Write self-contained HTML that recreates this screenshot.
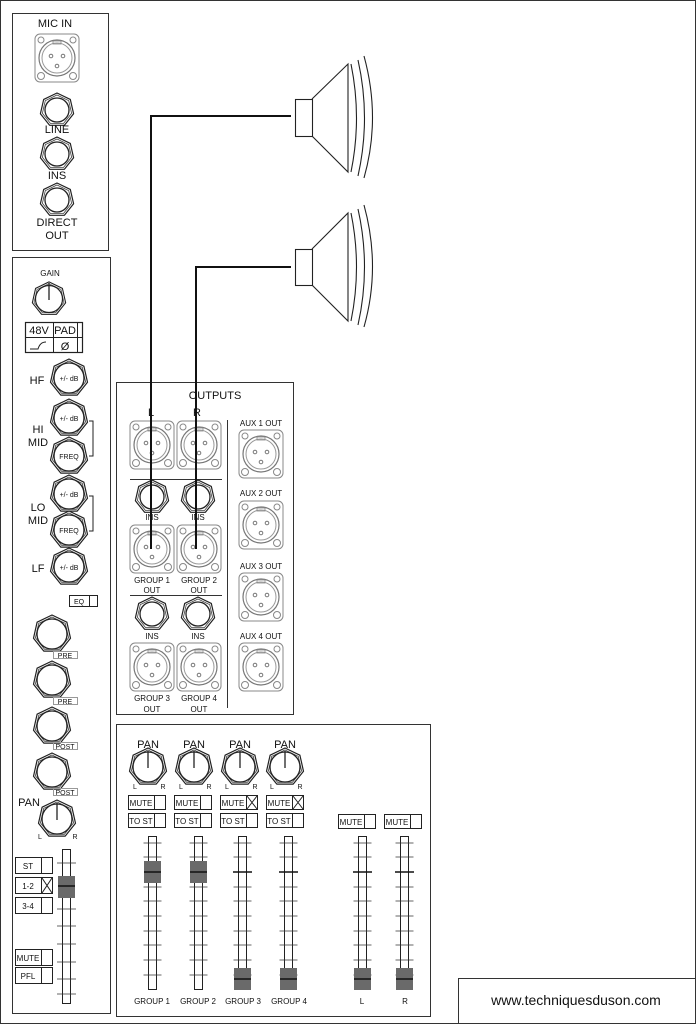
<!DOCTYPE html>
<html><head><meta charset="utf-8"><style>
html,body{margin:0;padding:0;background:#fff}
svg{display:block}
text{font-family:"Liberation Sans",Arial,sans-serif;fill:#111}
</style></head><body>
<svg width="696" height="1024" viewBox="0 0 696 1024" xmlns="http://www.w3.org/2000/svg">
<defs>
<g id="jack">
<polygon points="0,-17 13.3,-10.6 16.6,3.8 7.4,15.3 -7.4,15.3 -16.6,3.8 -13.3,-10.6" fill="#fff" stroke="#222" stroke-width="1.2" stroke-linejoin="round"/>
<polygon points="0,-15 11.7,-9.4 14.6,3.3 6.5,13.5 -6.5,13.5 -14.6,3.3 -11.7,-9.4" fill="none" stroke="#444" stroke-width="0.8"/>
<circle r="12" fill="#fff" stroke="#222" stroke-width="1.3"/>
</g>
<g id="knob">
<polygon points="0,-19 14.9,-11.8 18.5,4.2 8.2,17.1 -8.2,17.1 -18.5,4.2 -14.9,-11.8" fill="#fff" stroke="#222" stroke-width="1.2" stroke-linejoin="round"/>
<polygon points="0,-17 13.3,-10.6 16.6,3.8 7.4,15.3 -7.4,15.3 -16.6,3.8 -13.3,-10.6" fill="none" stroke="#444" stroke-width="0.8"/>
<circle r="15" fill="#fff" stroke="#222" stroke-width="1.3"/>
</g>
<g id="xlr">
<rect x="-22" y="-24" width="44" height="48" rx="5" fill="#fff" stroke="#888" stroke-width="1"/>
<circle r="18" fill="none" stroke="#777" stroke-width="1.2"/>
<circle r="15" fill="none" stroke="#999" stroke-width="1"/>
<circle cx="-16" cy="-18" r="3" fill="none" stroke="#888"/>
<circle cx="16" cy="-18" r="3" fill="none" stroke="#888"/>
<circle cx="-16" cy="18" r="3.5" fill="none" stroke="#888"/>
<circle cx="16" cy="18" r="3.5" fill="none" stroke="#888"/>
<rect x="-4" y="-17" width="8" height="3" fill="none" stroke="#888" stroke-width="0.8"/>
<circle cx="-6" cy="-2" r="1.8" fill="none" stroke="#777"/>
<circle cx="6" cy="-2" r="1.8" fill="none" stroke="#777"/>
<circle cx="0" cy="8" r="1.8" fill="none" stroke="#777"/>
</g>
<g id="ticks" stroke="#333" stroke-width="0.8">
<line x1="-9" y1="843" x2="9" y2="843"/><line x1="-9" y1="857" x2="9" y2="857"/><line x1="-9" y1="887" x2="9" y2="887"/><line x1="-9" y1="901" x2="9" y2="901"/><line x1="-9" y1="916" x2="9" y2="916"/><line x1="-9" y1="931" x2="9" y2="931"/><line x1="-9" y1="945" x2="9" y2="945"/><line x1="-9" y1="960" x2="9" y2="960"/><line x1="-9" y1="975" x2="9" y2="975"/>
</g>
</defs>

<rect x="0.5" y="0.5" width="695" height="1023" fill="#fff" stroke="#333"/>

<rect x="12.5" y="13.5" width="96" height="237" fill="none" stroke="#333"/>
<text x="55" y="27" font-size="11" text-anchor="middle">MIC IN</text>
<use href="#xlr" x="57" y="58"/>
<use href="#jack" x="57" y="110"/>
<text x="57" y="133" font-size="11" text-anchor="middle">LINE</text>
<use href="#jack" x="57" y="154"/>
<text x="57" y="179" font-size="11" text-anchor="middle">INS</text>
<use href="#jack" x="57" y="200"/>
<text x="57" y="226" font-size="11" text-anchor="middle">DIRECT</text>
<text x="57" y="239" font-size="11" text-anchor="middle">OUT</text>

<rect x="12.5" y="257.5" width="98" height="756" fill="none" stroke="#333"/>
<text x="50" y="276" font-size="8" text-anchor="middle">GAIN</text>
<use href="#knob" x="49" y="299" transform="translate(4.9 29.9) scale(0.9)"/>
<line x1="49" y1="283" x2="49" y2="300" stroke="#222" stroke-width="1.3"/>
<rect x="25.5" y="322.5" width="57" height="30" fill="none" stroke="#222" stroke-width="1.2"/>
<line x1="25" y1="337.5" x2="82" y2="337.5" stroke="#222"/>
<line x1="53.5" y1="322" x2="53.5" y2="353" stroke="#222"/>
<line x1="77.5" y1="322" x2="77.5" y2="353" stroke="#222"/>
<text x="39" y="334" font-size="11" text-anchor="middle">48V</text>
<text x="65" y="334" font-size="11" text-anchor="middle">PAD</text>
<path d="M30 349 L38 349 Q40 342 46 342" fill="none" stroke="#222"/>
<text x="65" y="350" font-size="11" text-anchor="middle">Ø</text>

<text x="37" y="384" font-size="11" text-anchor="middle">HF</text>
<use href="#knob" x="69" y="378"/><text x="69" y="381" font-size="7" text-anchor="middle">+/- dB</text>
<text x="38" y="433" font-size="11" text-anchor="middle">HI</text>
<text x="38" y="446" font-size="11" text-anchor="middle">MID</text>
<use href="#knob" x="69" y="418"/><text x="69" y="421" font-size="7" text-anchor="middle">+/- dB</text>
<use href="#knob" x="69" y="456"/><text x="69" y="459" font-size="7" text-anchor="middle">FREQ</text>
<path d="M89 421 H93 V456 H89" fill="none" stroke="#222"/>
<text x="38" y="511" font-size="11" text-anchor="middle">LO</text>
<text x="38" y="524" font-size="11" text-anchor="middle">MID</text>
<use href="#knob" x="69" y="494"/><text x="69" y="497" font-size="7" text-anchor="middle">+/- dB</text>
<use href="#knob" x="69" y="530"/><text x="69" y="533" font-size="7" text-anchor="middle">FREQ</text>
<path d="M89 496 H93 V531 H89" fill="none" stroke="#222"/>
<text x="38" y="572" font-size="11" text-anchor="middle">LF</text>
<use href="#knob" x="69" y="567"/><text x="69" y="570" font-size="7" text-anchor="middle">+/- dB</text>
<rect x="69.5" y="595.5" width="28" height="11" fill="none" stroke="#222"/>
<line x1="89.5" y1="595" x2="89.5" y2="607" stroke="#222"/>
<text x="79" y="604" font-size="7" text-anchor="middle">EQ</text>

<use href="#knob" x="52" y="634"/>
<rect x="53.5" y="651.5" width="24" height="7" fill="none" stroke="#999"/><text x="65" y="658" font-size="7" text-anchor="middle">PRE</text>
<use href="#knob" x="52" y="680"/>
<rect x="53.5" y="697.5" width="24" height="7" fill="none" stroke="#999"/><text x="65" y="704" font-size="7" text-anchor="middle">PRE</text>
<use href="#knob" x="52" y="726"/>
<rect x="53.5" y="742.5" width="24" height="7" fill="none" stroke="#999"/><text x="65" y="749" font-size="7" text-anchor="middle">POST</text>
<use href="#knob" x="52" y="772"/>
<rect x="53.5" y="788.5" width="24" height="7" fill="none" stroke="#999"/><text x="65" y="795" font-size="7" text-anchor="middle">POST</text>
<text x="29" y="806" font-size="11" text-anchor="middle">PAN</text>
<use href="#knob" x="57" y="819"/>
<line x1="57" y1="803" x2="57" y2="820" stroke="#222" stroke-width="1.3"/>
<text x="40" y="839" font-size="7" text-anchor="middle">L</text>
<text x="75" y="839" font-size="7" text-anchor="middle">R</text>

<g stroke="#222" fill="none">
<rect x="15.5" y="857.5" width="37" height="16"/><line x1="41.5" y1="857" x2="41.5" y2="874"/>
<rect x="15.5" y="877.5" width="37" height="16"/><line x1="41.5" y1="877" x2="41.5" y2="894"/>
<path d="M42 878 L52 893 M52 878 L42 893"/>
<rect x="15.5" y="897.5" width="37" height="16"/><line x1="41.5" y1="897" x2="41.5" y2="914"/>
<rect x="15.5" y="949.5" width="37" height="16"/><line x1="41.5" y1="949" x2="41.5" y2="966"/>
<rect x="15.5" y="967.5" width="37" height="16"/><line x1="41.5" y1="967" x2="41.5" y2="984"/>
</g>
<text x="28" y="869" font-size="8" text-anchor="middle">ST</text>
<text x="28" y="889" font-size="8" text-anchor="middle">1-2</text>
<text x="28" y="909" font-size="8" text-anchor="middle">3-4</text>
<text x="28" y="961" font-size="8" text-anchor="middle">MUTE</text>
<text x="28" y="979" font-size="8" text-anchor="middle">PFL</text>
<rect x="62.5" y="849.5" width="8" height="154" fill="#fff" stroke="#222"/>
<g stroke="#333" stroke-width="0.8">
<line x1="57" y1="863" x2="76" y2="863"/><line x1="57" y1="909" x2="76" y2="909"/><line x1="57" y1="926" x2="76" y2="926"/><line x1="57" y1="944" x2="76" y2="944"/><line x1="57" y1="962" x2="76" y2="962"/><line x1="57" y1="979" x2="76" y2="979"/><line x1="57" y1="994" x2="76" y2="994"/>
</g>
<rect x="58" y="876" width="17" height="22" fill="#6a6a6a"/>
<line x1="58" y1="886" x2="75" y2="886" stroke="#111" stroke-width="1.5"/>

<g stroke="#222" fill="#fff" stroke-width="1.1">
<rect x="295.5" y="99.5" width="17" height="37"/>
<path d="M312 99 L348 64 L348 172 L312 136" fill="none"/>
<path d="M351 64 Q362 118 351 172 M358 60 Q371 118 358 176 M364 56 Q381 118 364 178" fill="none"/>
<rect x="295.5" y="249.5" width="17" height="36"/>
<path d="M312 249 L348 213 L348 321 L312 285" fill="none"/>
<path d="M351 213 Q362 267 351 321 M358 209 Q371 267 358 325 M364 205 Q381 267 364 327" fill="none"/>
</g>

<rect x="116.5" y="382.5" width="177" height="332" fill="none" stroke="#333"/>
<text x="215" y="399" font-size="11" text-anchor="middle">OUTPUTS</text>
<text x="151" y="416" font-size="11" text-anchor="middle">L</text>
<text x="197" y="416" font-size="11" text-anchor="middle">R</text>
<use href="#xlr" x="152" y="445"/>
<use href="#xlr" x="199" y="445"/>
<line x1="130" y1="479.5" x2="222" y2="479.5" stroke="#333"/>
<line x1="227.5" y1="420" x2="227.5" y2="708" stroke="#333"/>
<use href="#jack" x="152" y="497"/>
<use href="#jack" x="198" y="497"/>
<text x="152" y="520" font-size="8" text-anchor="middle">INS</text>
<text x="198" y="520" font-size="8" text-anchor="middle">INS</text>
<use href="#xlr" x="152" y="549"/>
<use href="#xlr" x="199" y="549"/>
<text x="152" y="583" font-size="8" text-anchor="middle">GROUP 1</text>
<text x="152" y="593" font-size="8" text-anchor="middle">OUT</text>
<text x="199" y="583" font-size="8" text-anchor="middle">GROUP 2</text>
<text x="199" y="593" font-size="8" text-anchor="middle">OUT</text>
<line x1="130" y1="595.5" x2="222" y2="595.5" stroke="#333"/>
<use href="#jack" x="152" y="614"/>
<use href="#jack" x="198" y="614"/>
<text x="152" y="639" font-size="8" text-anchor="middle">INS</text>
<text x="198" y="639" font-size="8" text-anchor="middle">INS</text>
<use href="#xlr" x="152" y="667"/>
<use href="#xlr" x="199" y="667"/>
<text x="152" y="701" font-size="8" text-anchor="middle">GROUP 3</text>
<text x="152" y="712" font-size="8" text-anchor="middle">OUT</text>
<text x="199" y="701" font-size="8" text-anchor="middle">GROUP 4</text>
<text x="199" y="712" font-size="8" text-anchor="middle">OUT</text>
<text x="261" y="426" font-size="8" text-anchor="middle">AUX 1 OUT</text>
<use href="#xlr" x="261" y="454"/>
<text x="261" y="496" font-size="8" text-anchor="middle">AUX 2 OUT</text>
<use href="#xlr" x="261" y="525"/>
<text x="261" y="569" font-size="8" text-anchor="middle">AUX 3 OUT</text>
<use href="#xlr" x="261" y="597"/>
<text x="261" y="639" font-size="8" text-anchor="middle">AUX 4 OUT</text>
<use href="#xlr" x="261" y="667"/>

<path d="M291 116 H151 V549" fill="none" stroke="#111" stroke-width="2"/>
<path d="M291 267 H196 V549" fill="none" stroke="#111" stroke-width="2"/>

<rect x="116.5" y="724.5" width="314" height="292" fill="none" stroke="#333"/>
<text x="148" y="748" font-size="11" text-anchor="middle">PAN</text>
<text x="194" y="748" font-size="11" text-anchor="middle">PAN</text>
<text x="240" y="748" font-size="11" text-anchor="middle">PAN</text>
<text x="285" y="748" font-size="11" text-anchor="middle">PAN</text>
<use href="#knob" x="148" y="767"/><use href="#knob" x="194" y="767"/><use href="#knob" x="240" y="767"/><use href="#knob" x="285" y="767"/>
<g stroke="#222" stroke-width="1.3">
<line x1="148" y1="751" x2="148" y2="768"/><line x1="194" y1="751" x2="194" y2="768"/><line x1="240" y1="751" x2="240" y2="768"/><line x1="285" y1="751" x2="285" y2="768"/>
</g>
<g font-size="7" text-anchor="middle">
<text x="135" y="789">L</text><text x="163" y="789">R</text>
<text x="181" y="789">L</text><text x="209" y="789">R</text>
<text x="227" y="789">L</text><text x="255" y="789">R</text>
<text x="272" y="789">L</text><text x="300" y="789">R</text>
</g>
<g stroke="#222" fill="none">
<rect x="128.5" y="795.5" width="37" height="14"/><line x1="154.5" y1="795" x2="154.5" y2="810"/>
<rect x="174.5" y="795.5" width="37" height="14"/><line x1="200.5" y1="795" x2="200.5" y2="810"/>
<rect x="220.5" y="795.5" width="37" height="14"/><line x1="246.5" y1="795" x2="246.5" y2="810"/>
<path d="M247 796 L257 809 M257 796 L247 809"/>
<rect x="266.5" y="795.5" width="37" height="14"/><line x1="292.5" y1="795" x2="292.5" y2="810"/>
<path d="M293 796 L303 809 M303 796 L293 809"/>
<rect x="128.5" y="813.5" width="37" height="14"/><line x1="154.5" y1="813" x2="154.5" y2="828"/>
<rect x="174.5" y="813.5" width="37" height="14"/><line x1="200.5" y1="813" x2="200.5" y2="828"/>
<rect x="220.5" y="813.5" width="37" height="14"/><line x1="246.5" y1="813" x2="246.5" y2="828"/>
<rect x="266.5" y="813.5" width="37" height="14"/><line x1="292.5" y1="813" x2="292.5" y2="828"/>
<rect x="338.5" y="814.5" width="37" height="14"/><line x1="364.5" y1="814" x2="364.5" y2="829"/>
<rect x="384.5" y="814.5" width="37" height="14"/><line x1="410.5" y1="814" x2="410.5" y2="829"/>
</g>
<g font-size="8" text-anchor="middle">
<text x="141" y="806">MUTE</text><text x="187" y="806">MUTE</text><text x="233" y="806">MUTE</text><text x="279" y="806">MUTE</text>
<text x="141" y="824">TO ST</text><text x="187" y="824">TO ST</text><text x="233" y="824">TO ST</text><text x="279" y="824">TO ST</text>
<text x="351" y="825">MUTE</text><text x="397" y="825">MUTE</text>
</g>
<g>
<rect x="148.5" y="836.5" width="8" height="153" fill="#fff" stroke="#222"/><use href="#ticks" x="152.5"/>
<rect x="194.5" y="836.5" width="8" height="153" fill="#fff" stroke="#222"/><use href="#ticks" x="198.5"/>
<rect x="238.5" y="836.5" width="8" height="153" fill="#fff" stroke="#222"/><use href="#ticks" x="242.5"/>
<rect x="284.5" y="836.5" width="8" height="153" fill="#fff" stroke="#222"/><use href="#ticks" x="288.5"/>
<rect x="358.5" y="836.5" width="8" height="153" fill="#fff" stroke="#222"/><use href="#ticks" x="362.5"/>
<rect x="400.5" y="836.5" width="8" height="153" fill="#fff" stroke="#222"/><use href="#ticks" x="404.5"/>
</g>
<g stroke="#111" stroke-width="1.5">
<line x1="233" y1="872" x2="252" y2="872"/><line x1="279" y1="872" x2="298" y2="872"/><line x1="353" y1="872" x2="372" y2="872"/><line x1="395" y1="872" x2="414" y2="872"/>
</g>
<g fill="#6a6a6a">
<rect x="144" y="861" width="17" height="22"/><rect x="190" y="861" width="17" height="22"/>
<rect x="234" y="968" width="17" height="22"/><rect x="280" y="968" width="17" height="22"/>
<rect x="354" y="968" width="17" height="22"/><rect x="396" y="968" width="17" height="22"/>
</g>
<g stroke="#111" stroke-width="1.5">
<line x1="144" y1="872" x2="161" y2="872"/><line x1="190" y1="872" x2="207" y2="872"/>
<line x1="234" y1="979" x2="251" y2="979"/><line x1="280" y1="979" x2="297" y2="979"/><line x1="354" y1="979" x2="371" y2="979"/><line x1="396" y1="979" x2="413" y2="979"/>
</g>
<g font-size="8" text-anchor="middle">
<text x="152" y="1004">GROUP 1</text><text x="198" y="1004">GROUP 2</text><text x="243" y="1004">GROUP 3</text><text x="289" y="1004">GROUP 4</text>
<text x="362" y="1004">L</text><text x="405" y="1004">R</text>
</g>

<rect x="458.5" y="978.5" width="237" height="45" fill="#fff" stroke="#333"/>
<text x="576" y="1005" font-size="14" text-anchor="middle">www.techniquesduson.com</text>
</svg>
</body></html>
